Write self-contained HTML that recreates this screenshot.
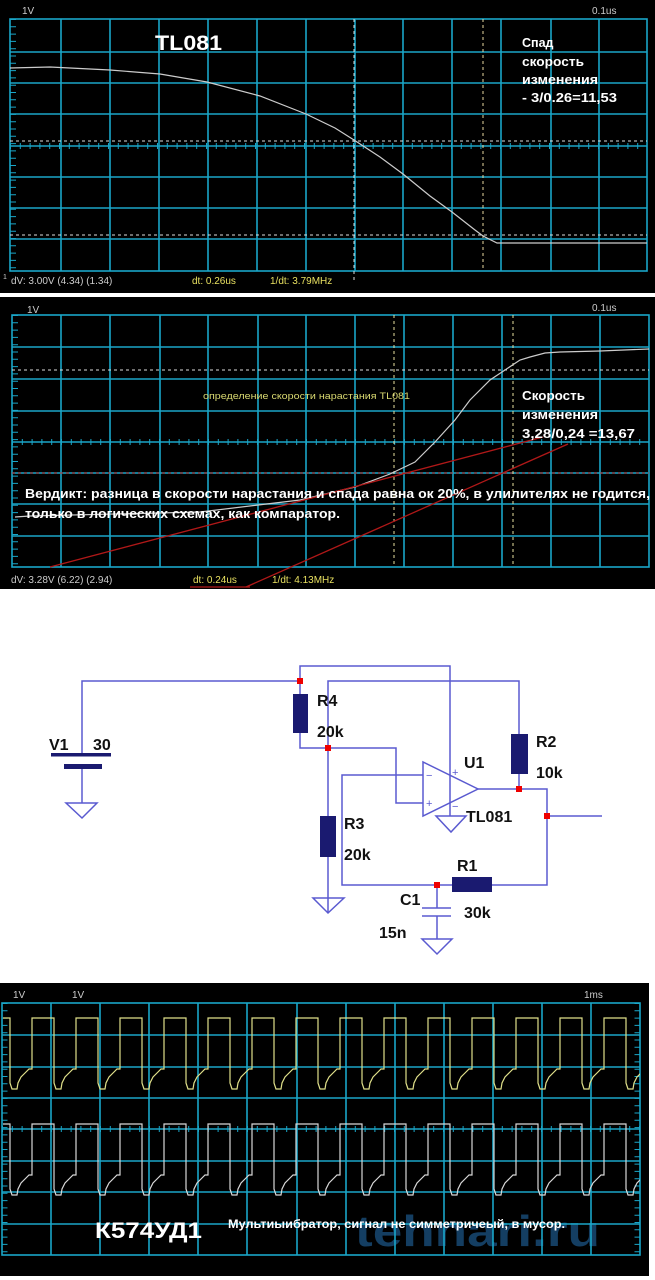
<!DOCTYPE html>
<html><head><meta charset="utf-8"><style>
html,body{margin:0;padding:0;background:#fff;}
svg{display:block;}
text{font-family:"Liberation Sans","DejaVu Sans",sans-serif;}
</style></head><body>
<svg width="655" height="1280" viewBox="0 0 655 1280" xmlns="http://www.w3.org/2000/svg">
<defs>
<clipPath id="c3"><rect x="2" y="1003" width="638" height="252"/></clipPath>
</defs>
<!-- Panel 1 -->
<rect x="0" y="0" width="655" height="293" fill="#000"/>
<g stroke="#1aa6c8" stroke-width="1.6" fill="none">
<rect x="10" y="19" width="637" height="252"/>
<path d="M61 19V271M110 19V271M159 19V271M208 19V271M257 19V271M306 19V271M355 19V271M403 19V271M452 19V271M501 19V271M551 19V271M599 19V271"/>
<path d="M10 52H647M10 83H647M10 114H647M10 146H647M10 177H647M10 208H647M10 239H647"/>
</g>
<path d="M10 146H647" stroke="#1aa6c8" stroke-width="6" stroke-dasharray="1 8.8" fill="none"/>
<path d="M13 19V271" stroke="#1aa6c8" stroke-width="6" stroke-dasharray="1 6.3" fill="none"/>
<g stroke="#ddd" stroke-width="1" stroke-dasharray="3 3" fill="none">
<path d="M10 141H647M10 235H647M354 19V281"/>
</g>
<path d="M483 19V271" stroke="#e8d9a0" stroke-width="1" stroke-dasharray="3 3"/>
<path d="M10 68 L50 67 L110 70 L160 74 L207 82 L260 96 L306 114 L335 128 L354 140 L380 157 L403 174 L430 196 L452 212 L475 230 L483 236 L497 243 L647 243" stroke="#ccc" stroke-width="1.2" fill="none"/>
<text x="22" y="14" fill="#ccc" font-size="10">1V</text>
<text x="592" y="14" fill="#ccc" font-size="10">0.1us</text>
<text x="155" y="50" fill="#fff" font-size="21" font-weight="bold" textLength="67" lengthAdjust="spacingAndGlyphs">TL081</text>
<g fill="#fff" font-size="12.5" font-weight="bold">
<text x="522" y="47">Спад</text><text x="522" y="66" textLength="62" lengthAdjust="spacingAndGlyphs">скорость</text><text x="522" y="84" textLength="76" lengthAdjust="spacingAndGlyphs">изменения</text><text x="522" y="102" textLength="95" lengthAdjust="spacingAndGlyphs">- 3/0.26=11,53</text>
</g>
<text x="3" y="279" fill="#ccc" font-size="7">1</text>
<text x="11" y="284" fill="#ccc" font-size="10">dV: 3.00V  (4.34) (1.34)</text>
<text x="192" y="284" fill="#e8e060" font-size="10">dt: 0.26us</text>
<text x="270" y="284" fill="#e8e060" font-size="10">1/dt: 3.79MHz</text>
<!-- Panel 2 -->
<rect x="0" y="297" width="655" height="292" fill="#000"/>
<g stroke="#1aa6c8" stroke-width="1.6" fill="none">
<rect x="12" y="315" width="637" height="252"/>
<path d="M61 315V567M110 315V567M160 315V567M208 315V567M258 315V567M306 315V567M355 315V567M404 315V567M453 315V567M502 315V567M551 315V567M600 315V567"/>
<path d="M12 347H649M12 379H649M12 411H649M12 442H649M12 473H649M12 504H649M12 536H649"/>
</g>
<path d="M12 442H649" stroke="#1aa6c8" stroke-width="6" stroke-dasharray="1 8.8" fill="none"/>
<path d="M15 315V567" stroke="#1aa6c8" stroke-width="6" stroke-dasharray="1 6.3" fill="none"/>
<path d="M12 370H649" stroke="#ddd" stroke-dasharray="3 3"/>
<path d="M12 473H649" stroke="#c03030" stroke-dasharray="3 3"/>
<path d="M394 315V567" stroke="#e8e0a0" stroke-dasharray="3 3"/>
<path d="M513 315V567" stroke="#e8e0a0" stroke-dasharray="3 3"/>
<path d="M15 517 L30 516 L200 512 L300 500 L355 487 L390 474 L415 462 L435 442 L455 420 L470 400 L490 380 L505 370 L520 360 L530 357 L545 353 L560 352 L600 351 L649 349" stroke="#ccc" stroke-width="1.2" fill="none"/>
<path d="M50 567 L543 437" stroke="#b01818" stroke-width="1.3"/>
<path d="M246 587 L568 444" stroke="#b01818" stroke-width="1.3"/>
<path d="M190 587 H250" stroke="#b01818" stroke-width="1.3"/>
<text x="203" y="399" fill="#d8d870" font-size="9.5" textLength="207" lengthAdjust="spacingAndGlyphs">определение скорости нарастания TL081</text>
<g fill="#fff" font-size="12.5" font-weight="bold">
<text x="522" y="400" textLength="63" lengthAdjust="spacingAndGlyphs">Скорость</text><text x="522" y="419" textLength="76" lengthAdjust="spacingAndGlyphs">изменения</text><text x="522" y="438" textLength="113" lengthAdjust="spacingAndGlyphs">3,28/0,24  =13,67</text>
<text x="25" y="498" font-size="13" textLength="625" lengthAdjust="spacingAndGlyphs">Вердикт: разница в скорости нарастания и  спада  равна  ок 20%, в улилителях не годится,</text>
<text x="25" y="518" font-size="13" textLength="315" lengthAdjust="spacingAndGlyphs">только в логических схемах, как компаратор.</text>
</g>
<text x="27" y="313" fill="#ccc" font-size="10">1V</text>
<text x="592" y="311" fill="#ccc" font-size="10">0.1us</text>
<text x="11" y="583" fill="#ccc" font-size="10">dV: 3.28V  (6.22) (2.94)</text>
<text x="193" y="583" fill="#e8e060" font-size="10">dt: 0.24us</text>
<text x="272" y="583" fill="#e8e060" font-size="10">1/dt: 4.13MHz</text>
<!-- Schematic -->
<g stroke="#5a5ad0" stroke-width="1.5" fill="none">
<path d="M82 755V681H300V733"/>
<path d="M300 681V666H450V816"/>
<path d="M328 913V681H519V734"/>
<path d="M300 733V748H396V803H423"/>
<path d="M423 775H342V885H452"/>
<path d="M492 885H547V789H478"/>
<path d="M519 774V789"/>
<path d="M547 816H602"/>
<path d="M437 885V908M437 916V939"/>
<path d="M82 766V803"/>
<path d="M423 762V816L478 789Z"/>
<path d="M66 803H97L82 818Z"/>
<path d="M313 898H344L328 913Z"/>
<path d="M422 939H452L437 954Z"/>
<path d="M436 816H466L451 832Z"/>
<path d="M422 908H451M422 916H451"/>
</g>
<g fill="#1a1a70">
<rect x="293" y="694" width="15" height="39"/>
<rect x="511" y="734" width="17" height="40"/>
<rect x="320" y="816" width="16" height="41"/>
<rect x="452" y="877" width="40" height="15"/>
<rect x="51" y="753" width="60" height="3.5"/>
<rect x="64" y="764" width="38" height="5"/>
</g>
<g fill="#e00">
<rect x="297" y="678" width="6" height="6"/><rect x="325" y="745" width="6" height="6"/>
<rect x="516" y="786" width="6" height="6"/><rect x="544" y="813" width="6" height="6"/>
<rect x="434" y="882" width="6" height="6"/>
</g>
<g fill="#5a5ad0" font-size="11">
<text x="426" y="779">−</text><text x="426" y="807">+</text>
<text x="452" y="776">+</text><text x="452" y="810">−</text>
</g>
<g fill="#111" font-size="16" font-weight="bold">
<text x="49" y="750">V1</text><text x="93" y="750">30</text>
<text x="317" y="706">R4</text><text x="317" y="737">20k</text>
<text x="536" y="747">R2</text><text x="536" y="778">10k</text>
<text x="464" y="768">U1</text><text x="466" y="822">TL081</text>
<text x="344" y="829">R3</text><text x="344" y="860">20k</text>
<text x="457" y="871">R1</text>
<text x="400" y="905">C1</text><text x="464" y="918">30k</text>
<text x="379" y="938">15n</text>
</g>
<!-- Panel 3 -->
<rect x="0" y="983" width="649" height="293" fill="#000"/>
<text x="355" y="1246" fill="#143e62" font-size="44" font-weight="bold" textLength="245" lengthAdjust="spacingAndGlyphs">tehnari.ru</text>
<g stroke="#1aa6c8" stroke-width="1.6" fill="none">
<rect x="2" y="1003" width="638" height="252"/>
<path d="M51 1003V1255M100 1003V1255M149 1003V1255M198 1003V1255M247 1003V1255M297 1003V1255M346 1003V1255M395 1003V1255M444 1003V1255M493 1003V1255M542 1003V1255M591 1003V1255"/>
<path d="M2 1035H640M2 1067H640M2 1098H640M2 1129H640M2 1161H640M2 1192H640M2 1224H640"/>
</g>
<path d="M2 1129H640" stroke="#1aa6c8" stroke-width="6" stroke-dasharray="1 8.8" fill="none"/>
<path d="M5 1003V1255M637 1003V1255" stroke="#1aa6c8" stroke-width="5" stroke-dasharray="1 6.3" fill="none"/>
<g clip-path="url(#c3)" fill="none" stroke-width="1.2">
<path stroke="#e0e08a" d="M3 1018h7v65l2 6h5l1 -6l3 -6l5 -5l3 -3h3v-51h22v65l2 6h5l1 -6l3 -6l5 -5l3 -3h3v-51h22v65l2 6h5l1 -6l3 -6l5 -5l3 -3h3v-51h22v65l2 6h5l1 -6l3 -6l5 -5l3 -3h3v-51h22v65l2 6h5l1 -6l3 -6l5 -5l3 -3h3v-51h22v65l2 6h5l1 -6l3 -6l5 -5l3 -3h3v-51h22v65l2 6h5l1 -6l3 -6l5 -5l3 -3h3v-51h22v65l2 6h5l1 -6l3 -6l5 -5l3 -3h3v-51h22v65l2 6h5l1 -6l3 -6l5 -5l3 -3h3v-51h22v65l2 6h5l1 -6l3 -6l5 -5l3 -3h3v-51h22v65l2 6h5l1 -6l3 -6l5 -5l3 -3h3v-51h22v65l2 6h5l1 -6l3 -6l5 -5l3 -3h3v-51h22v65l2 6h5l1 -6l3 -6l5 -5l3 -3h3v-51h22v65l2 6h5l1 -6l3 -6l5 -5l3 -3h3v-51h22v65l2 6h5l1 -6l3 -6l5 -5l3 -3h3v-51"/>
<path stroke="#d8d8d8" d="M3 1124h7v65l2 6h5l1 -6l3 -6l5 -5l3 -3h3v-51h22v65l2 6h5l1 -6l3 -6l5 -5l3 -3h3v-51h22v65l2 6h5l1 -6l3 -6l5 -5l3 -3h3v-51h22v65l2 6h5l1 -6l3 -6l5 -5l3 -3h3v-51h22v65l2 6h5l1 -6l3 -6l5 -5l3 -3h3v-51h22v65l2 6h5l1 -6l3 -6l5 -5l3 -3h3v-51h22v65l2 6h5l1 -6l3 -6l5 -5l3 -3h3v-51h22v65l2 6h5l1 -6l3 -6l5 -5l3 -3h3v-51h22v65l2 6h5l1 -6l3 -6l5 -5l3 -3h3v-51h22v65l2 6h5l1 -6l3 -6l5 -5l3 -3h3v-51h22v65l2 6h5l1 -6l3 -6l5 -5l3 -3h3v-51h22v65l2 6h5l1 -6l3 -6l5 -5l3 -3h3v-51h22v65l2 6h5l1 -6l3 -6l5 -5l3 -3h3v-51h22v65l2 6h5l1 -6l3 -6l5 -5l3 -3h3v-51h22v65l2 6h5l1 -6l3 -6l5 -5l3 -3h3v-51"/>
</g>
<text x="13" y="998" fill="#ccc" font-size="10">1V</text>
<text x="72" y="998" fill="#ccc" font-size="10">1V</text>
<text x="584" y="998" fill="#ccc" font-size="10">1ms</text>
<text x="95" y="1238" fill="#fff" font-size="22" font-weight="bold" textLength="107" lengthAdjust="spacingAndGlyphs">К574УД1</text>
<text x="228" y="1228" fill="#fff" font-size="12" font-weight="bold" textLength="337" lengthAdjust="spacingAndGlyphs">Мультиыибратор, сигнал не симметричеый, в мусор.</text>
</svg>
</body></html>
